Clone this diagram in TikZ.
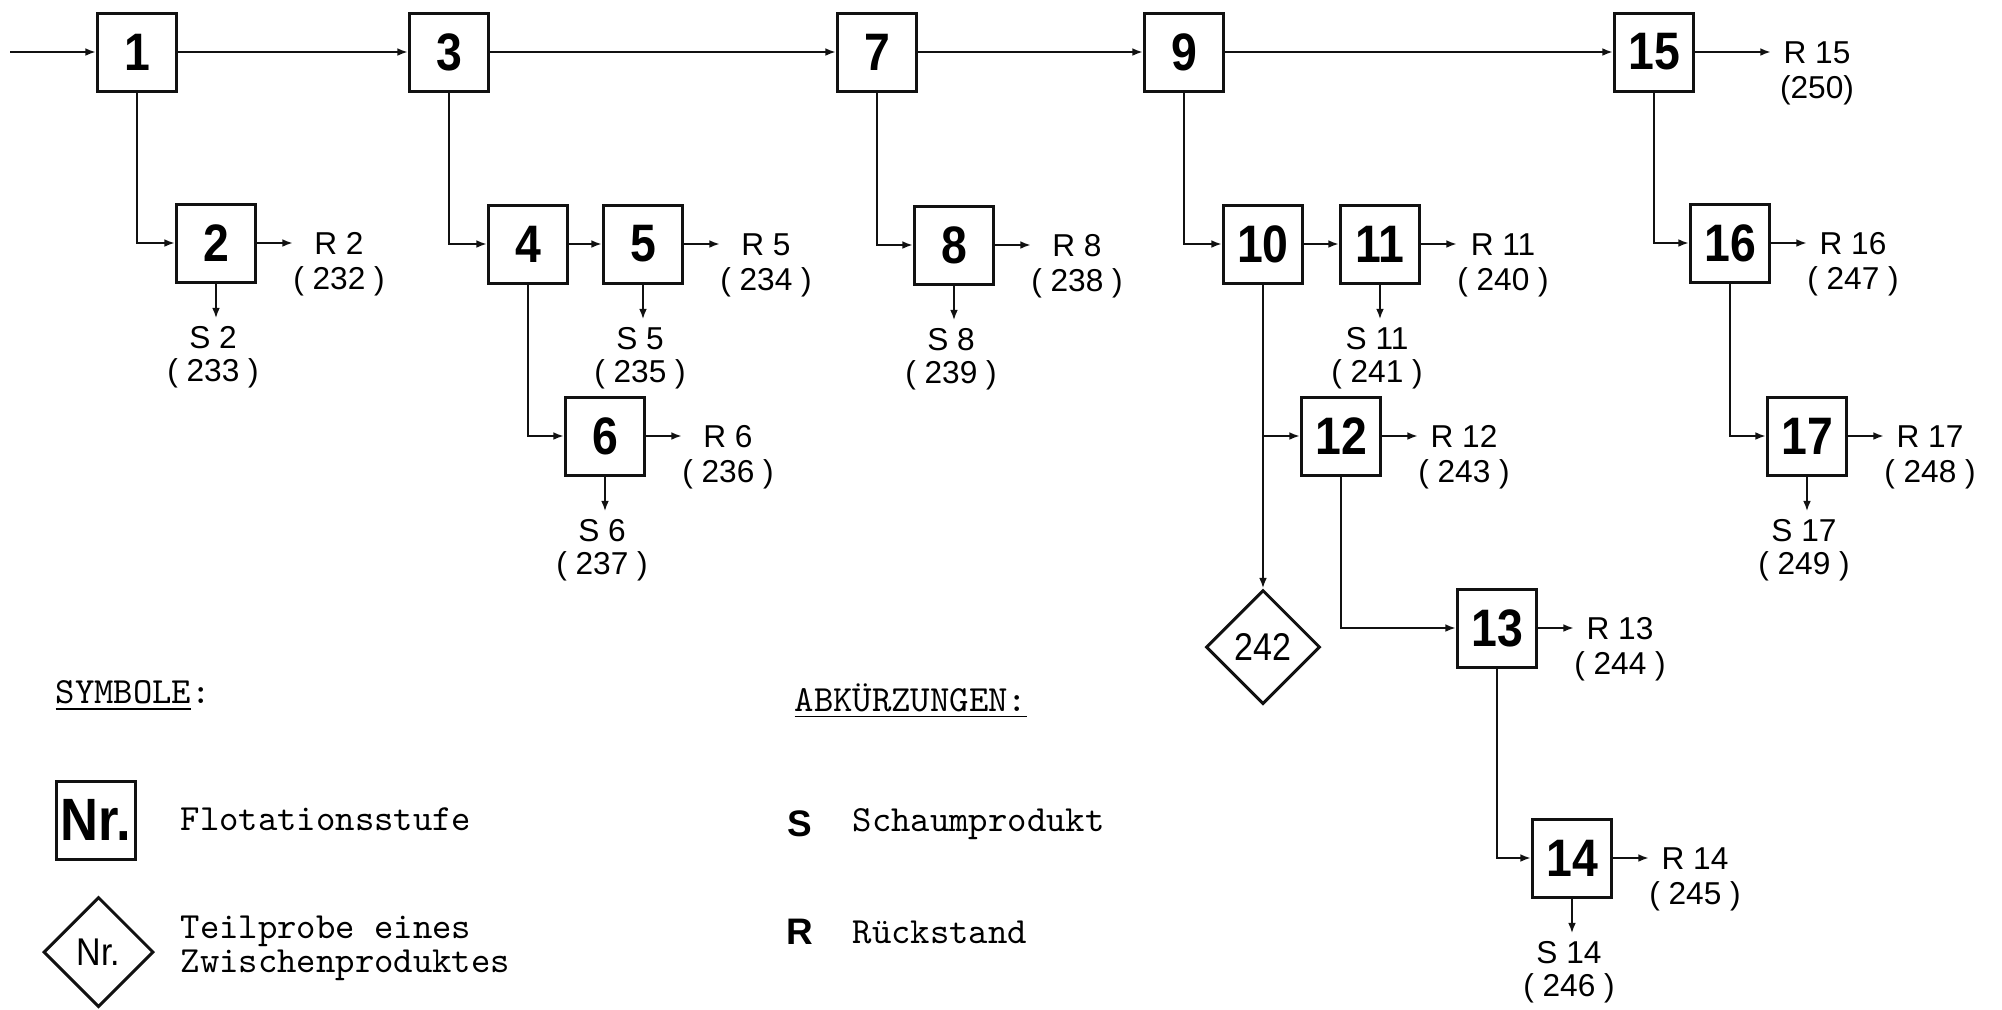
\documentclass[tikz,border=0pt]{standalone}
\usepackage{fontspec}
\newfontfamily\dinfont{Liberation Sans}[FakeStretch=0.88]
\newfontfamily\labfont{Liberation Sans}
\usepackage{tikz}
\usetikzlibrary{arrows.meta,positioning,shapes.geometric,calc}
\definecolor{ink}{HTML}{111111}

\tikzset{
  stage/.style={draw=ink,line width=0.85pt,minimum width=0.79cm,minimum height=0.78cm,
                inner sep=0pt,font=\dinfont\bfseries\fontsize{15}{18}\selectfont},
  sample/.style={draw=ink,line width=0.85pt,diamond,minimum width=1.14cm,minimum height=1.14cm,
                 inner sep=0pt,font=\dinfont\fontsize{11}{13}\selectfont},
  flow/.style={draw=ink,line width=0.6pt,-{Latex[length=3pt,width=2.2pt]}},
  rlab/.style={align=center,inner sep=0pt,xshift=0.46cm,yshift=-0.21cm,
               font=\labfont\fontsize{9}{10}\selectfont},
  slab/.style={align=center,inner sep=0pt,xshift=-0.03cm,yshift=-0.39cm,
               font=\labfont\fontsize{9}{9.5}\selectfont},
  legtext/.style={anchor=west,inner sep=0pt,align=left,
                  font=\ttfamily\fontsize{10.5}{8}\selectfont},
  legkey/.style={font=\labfont\bfseries\fontsize{10.5}{12}\selectfont}
}

\begin{document}
\begin{tikzpicture}
  \useasboundingbox (0,0) rectangle (20.02,-10.09);

  % flotation stages
  \node[stage] (n1)  at (1.37,-0.52)  {1};
  \node[stage] (n3)  at (4.49,-0.52)  {3};
  \node[stage] (n7)  at (8.77,-0.52)  {7};
  \node[stage] (n9)  at (11.84,-0.52) {9};
  \node[stage] (n15) at (16.54,-0.52) {15};
  \node[stage] (n2)  at (2.16,-2.43)  {2};
  \node[stage] (n4)  at (5.28,-2.44)  {4};
  \node[stage] (n5)  at (6.43,-2.44)  {5};
  \node[stage] (n6)  at (6.05,-4.36)  {6};
  \node[stage] (n8)  at (9.54,-2.45)  {8};
  \node[stage] (n10) at (12.63,-2.44) {10};
  \node[stage] (n11) at (13.80,-2.44) {11};
  \node[stage] (n12) at (13.41,-4.36) {12};
  \node[stage] (n13) at (14.97,-6.28) {13};
  \node[stage] (n14) at (15.72,-8.58) {14};
  \node[stage] (n16) at (17.30,-2.43) {16};
  \node[stage] (n17) at (18.07,-4.36) {17};
  \node[sample] (d242) at (12.63,-6.47) {242};

  % main line
  \coordinate (feed) at (0.10,-0.52);
  \draw[flow] (feed) -- (n1.west);
  \draw[flow] (n1.east) -- (n3.west);
  \draw[flow] (n3.east) -- (n7.west);
  \draw[flow] (n7.east) -- (n9.west);
  \draw[flow] (n9.east) -- (n15.west);

  % branches
  \draw[flow] (n1.south) |- (n2.west);
  \draw[flow] (n3.south) |- (n4.west);
  \draw[flow] (n4.east) -- (n5.west);
  \draw[flow] (n4.south) |- (n6.west);
  \draw[flow] (n7.south) |- (n8.west);
  \draw[flow] (n9.south) |- (n10.west);
  \draw[flow] (n10.east) -- (n11.west);
  \draw[flow] (n10.south) -- (d242.north);
  \draw[flow] (n10.south |- n12.west) -- (n12.west);
  \draw[flow] (n12.south) |- (n13.west);
  \draw[flow] (n13.south) |- (n14.west);
  \draw[flow] (n15.south) |- (n16.west);
  \draw[flow] (n16.south) |- (n17.west);

  % residues
  \foreach \b/\r/\q in {n2/{R 2}/{( 232 )}, n5/{R 5}/{( 234 )}, n6/{R 6}/{( 236 )},
                        n8/{R 8}/{( 238 )}, n11/{R 11}/{( 240 )}, n12/{R 12}/{( 243 )},
                        n13/{R 13}/{( 244 )}, n14/{R 14}/{( 245 )},
                        n16/{R 16}/{( 247 )}, n17/{R 17}/{( 248 )}} {
    \draw[flow] (\b.east) -- ++(0.36,0) coordinate (r\b);
    \node[rlab] at (r\b) {\r\\\q};
  }
  \draw[flow] (n15.east) -- ++(0.76,0) coordinate (rn15);
  \node[rlab] at (rn15) {R 15\\(250)};

  % froth products
  \foreach \b/\s/\q in {n2/{S 2}/{( 233 )}, n5/{S 5}/{( 235 )}, n6/{S 6}/{( 237 )},
                        n8/{S 8}/{( 239 )}, n11/{S 11}/{( 241 )},
                        n14/{S 14}/{( 246 )}, n17/{S 17}/{( 249 )}} {
    \draw[flow] (\b.south) -- ++(0,-0.35) coordinate (s\b);
    \node[slab] at (s\b) {\s\\\q};
  }

  % legend
  \node[legtext] (symb) at (0.55,-6.96) {\underline{SYMBOLE}:};
  \node[stage,font=\dinfont\bfseries\fontsize{17}{20}\selectfont] (legbox) at (0.96,-8.20) {Nr.};
  \node[legtext] (legboxt) at (1.80,-8.19) {Flotationsstufe};
  \node[sample,minimum width=1.10cm,minimum height=1.10cm] (legdia) at (0.985,-9.52) {Nr.};
  \node[legtext] (legdiat) at (1.80,-9.48) {Teilprobe eines\\Zwischenproduktes};

  \node[legtext] (abk) at (7.94,-7.01) {\underline{ABKÜRZUNGEN:}};
  \node[legkey] (abks) at (8.00,-8.24) {S};
  \node[legtext] (abkst) at (8.52,-8.24) {Schaumprodukt};
  \node[legkey] (abkr) at (8.00,-9.32) {R};
  \node[legtext] (abkrt) at (8.52,-9.32) {Rückstand};
\end{tikzpicture}
\end{document}
